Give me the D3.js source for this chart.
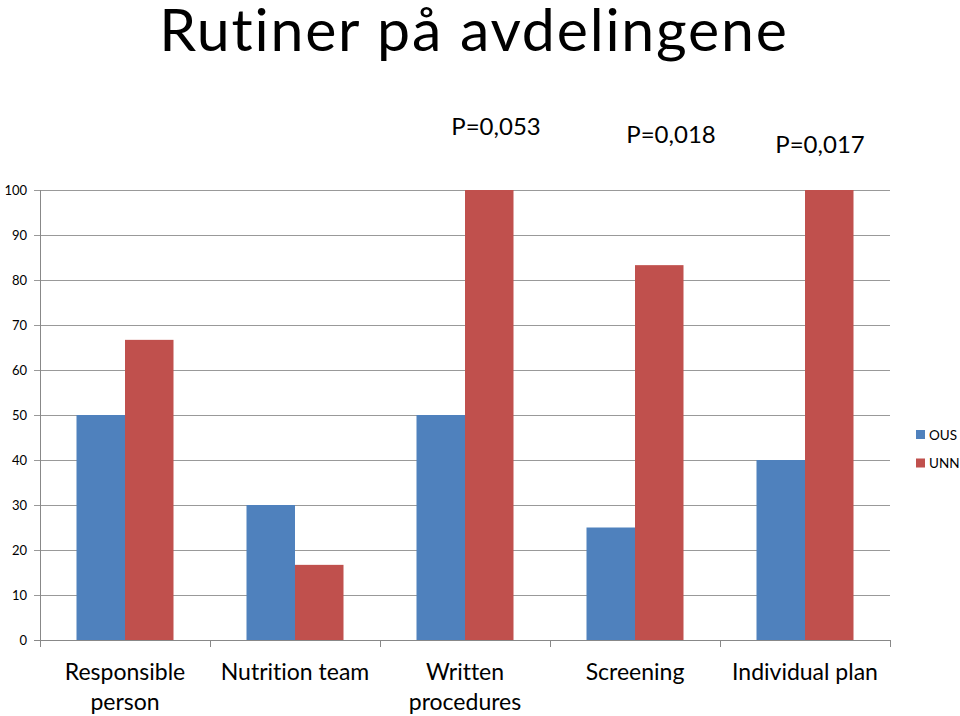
<!DOCTYPE html>
<html><head><meta charset="utf-8">
<script src="https://cdn.jsdelivr.net/npm/d3@7"></script>
<style>body{margin:0;background:#fff}svg{display:block}text{font-family:Lato,"Open Sans",sans-serif;font-variant-ligatures:none;font-feature-settings:"liga" 0,"clig" 0}</style>
</head><body><svg id="c" width="960" height="716"></svg>
<script>
const categories = [["Responsible","person"],["Nutrition team"],["Written","procedures"],["Screening"],["Individual plan"]];
const seriesNames = ["OUS","UNN"];
const ousValues = [50,30,50,25,40];
const unnValues = [66.7,16.7,100,83.3,100];
const yTicks = [0,10,20,30,40,50,60,70,80,90,100];
const pLabels = [{t:"P=0,053",cat:2},{t:"P=0,018",cat:3},{t:"P=0,017",cat:4}];
const colors = ["#4F81BD","#C0504D"];

const svg = d3.select("#c");
const L=40,R=890,T=190,B=640;
const y = d3.scaleLinear().domain([0,100]).range([B,T]);
const x0 = d3.scaleBand().domain(d3.range(categories.length)).range([L,R]).padding(0);
const gap = x0.bandwidth()*73/170;
const x1 = d3.scaleBand().domain(seriesNames).range([gap/2, x0.bandwidth()-gap/2]).padding(0);

// gridlines
svg.append("g").selectAll("line").data(yTicks).join("line")
  .attr("x1",L-6).attr("x2",R).attr("y1",d=>y(d)).attr("y2",d=>y(d))
  .attr("stroke",d=>d===0?"#888":"#999").attr("stroke-width",1).attr("shape-rendering","crispEdges");
// y axis line
svg.append("line").attr("x1",L).attr("x2",L).attr("y1",T).attr("y2",B+7).attr("stroke","#888").attr("shape-rendering","crispEdges");
// x ticks
svg.append("g").selectAll("line").data(d3.range(categories.length+1)).join("line")
  .attr("x1",d=>L+d*x0.bandwidth()).attr("x2",d=>L+d*x0.bandwidth()).attr("y1",B).attr("y2",B+7)
  .attr("stroke","#888").attr("shape-rendering","crispEdges");
// y labels
svg.append("g").selectAll("text").data(yTicks).join("text")
  .attr("x",27).attr("y",d=>y(d)+4.5).attr("text-anchor","end").attr("font-size",13).attr("fill","#000").text(d=>d);

// bars
const data = categories.map((c,i)=>({i, vals:[ousValues[i],unnValues[i]]}));
const g = svg.append("g").selectAll("g").data(data).join("g").attr("transform",d=>`translate(${x0(d.i)},0)`);
g.selectAll("rect").data(d=>d.vals.map((v,k)=>({v,k}))).join("rect")
  .attr("x",d=>x1(seriesNames[d.k])).attr("width",x1.bandwidth())
  .attr("y",d=>y(d.v)).attr("height",d=>B-y(d.v)).attr("fill",d=>colors[d.k]);

// category labels
const cl = svg.append("g").selectAll("text").data(categories).join("text")
  .attr("x",(d,i)=>x0(i)+x0.bandwidth()/2).attr("y",680).attr("text-anchor","middle").attr("font-size",23).attr("fill","#000");
cl.selectAll("tspan").data(d=>d).join("tspan").attr("x",function(){return this.parentNode.getAttribute("x")}).attr("dy",(d,j)=>j?30:0).text(d=>d);

// legend
const lg = svg.append("g").selectAll("g").data(seriesNames).join("g").attr("transform",(d,i)=>`translate(916,${430+i*28.5})`);
lg.append("rect").attr("width",9).attr("height",9).attr("fill",(d,i)=>colors[i]);
lg.append("text").attr("x",13).attr("y",9.5).attr("font-size",13.5).text(d=>d);

// P labels
const pY=[135,143,153], pX=[496,671,820];
svg.append("g").selectAll("text").data(pLabels).join("text")
  .attr("x",(d,i)=>pX[i]).attr("y",(d,i)=>pY[i]).attr("text-anchor","middle").attr("font-size",24).text(d=>d.t);

// title
svg.append("text").attr("x",474).attr("y",51).attr("text-anchor","middle").attr("font-size",59).attr("letter-spacing",1.8).text("Rutiner på avdelingene");
</script></body></html>
